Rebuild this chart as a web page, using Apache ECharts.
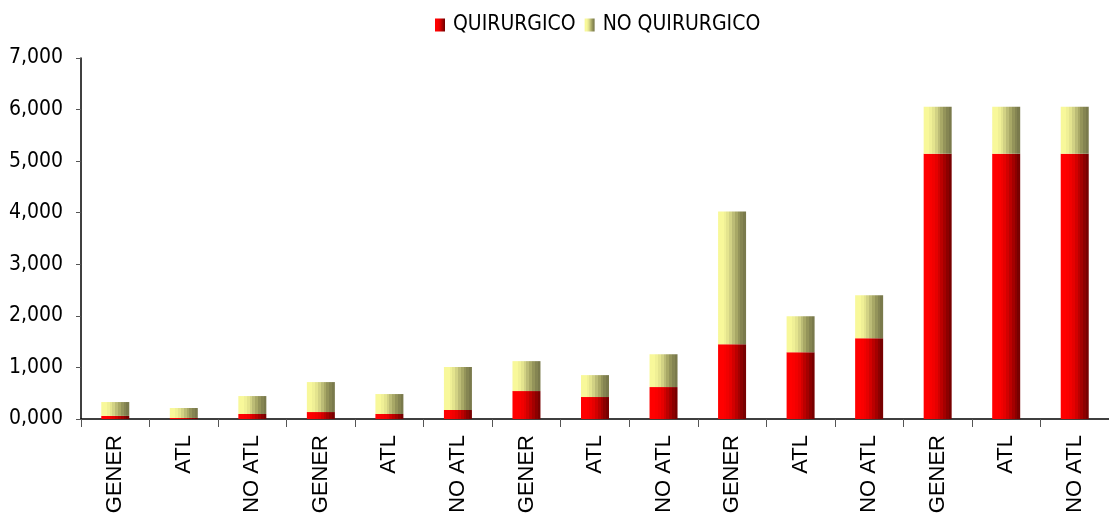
<!DOCTYPE html>
<html>
<head>
<meta charset="utf-8">
<script src="https://cdn.jsdelivr.net/npm/echarts@6/dist/echarts.min.js"></script>
<style>
  html, body { margin: 0; padding: 0; background: #fff; }
  #chart { width: 1109px; height: 521px; }
</style>
</head>
<body>
<div id="chart"></div>
<script>
// categorias del eje x
const categories = ['GENER', 'ATL', 'NO ATL', 'GENER', 'ATL', 'NO ATL', 'GENER', 'ATL', 'NO ATL',
  'GENER', 'ATL', 'NO ATL', 'GENER', 'ATL', 'NO ATL']
const seriesNames = ['QUIRURGICO', 'NO QUIRURGICO']
// valores
const quirurgico = [0.060, 0.020, 0.097, 0.135, 0.097, 0.174, 0.542, 0.426, 0.619, 1.451, 1.296, 1.567, 5.145, 5.145, 5.145]
const noQuirurgico = [0.269, 0.193, 0.348, 0.581, 0.387, 0.832, 0.580, 0.425, 0.638, 2.572, 0.696, 0.831, 0.909, 0.909, 0.909]

const narrowFont = '"DejaVu Sans Condensed", "Liberation Sans Narrow", sans-serif'

// degradado en bandas, como en Excel
function bands (colors) {
  const stops = []
  const n = colors.length
  colors.forEach((c, i) => {
    stops.push({ offset: i / n, color: c })
    stops.push({ offset: (i + 1) / n - 0.0001, color: c })
  })
  return new echarts.graphic.LinearGradient(0, 0, 1, 0, stops)
}
const redFill = bands(['#ff0000', '#ff0000', '#fa0000', '#f20000', '#e60000', '#d20000', '#bb0000', '#a40000', '#8c0000', '#780000'])
const yellowFill = bands(['#f8f89a', '#f8f89a', '#f0f096', '#e4e48e', '#d2d284', '#bcbc76', '#a8a866', '#94945a', '#858552', '#7a7a4c'])

const chart = echarts.init(document.getElementById('chart'))
const option = {
  animation: false,
  legend: {
    left: 430,
    top: 9,
    icon: 'rect',
    itemWidth: 10,
    itemHeight: 13,
    itemGap: 9,
    data: seriesNames,
    textStyle: {
      fontFamily: narrowFont,
      fontSize: 21,
      lineHeight: 22,
      color: '#000',
      padding: [0, 0, 0, 3]
    }
  },
  grid: {
    left: 81,
    right: -8,
    top: 58,
    bottom: 102
  },
  xAxis: {
    type: 'category',
    data: categories,
    axisLine: { lineStyle: { color: '#000', width: 1.5 } },
    axisTick: { show: true, length: 8, lineStyle: { color: '#555' } },
    axisLabel: {
      rotate: 90,
      margin: 16,
      interval: 0,
      color: '#000',
      fontFamily: '"Liberation Sans", Arial, sans-serif',
      fontSize: 22
    }
  },
  yAxis: {
    type: 'value',
    min: 0,
    max: 7,
    interval: 1,
    splitLine: { show: false },
    axisLine: { show: true, lineStyle: { color: '#000', width: 1.5 } },
    axisTick: { show: true, length: 5, lineStyle: { color: '#555' } },
    axisLabel: {
      margin: 18,
      color: '#000',
      fontFamily: narrowFont,
      fontSize: 21,
      formatter: v => v.toFixed(3).replace('.', ',')
    }
  },
  series: [
    {
      name: seriesNames[0],
      type: 'bar',
      stack: 'total',
      barWidth: 28,
      data: quirurgico,
      itemStyle: { color: redFill }
    },
    {
      name: seriesNames[1],
      type: 'bar',
      stack: 'total',
      barWidth: 28,
      data: noQuirurgico,
      itemStyle: { color: yellowFill }
    }
  ]
}
chart.setOption(option)
</script>
</body>
</html>
